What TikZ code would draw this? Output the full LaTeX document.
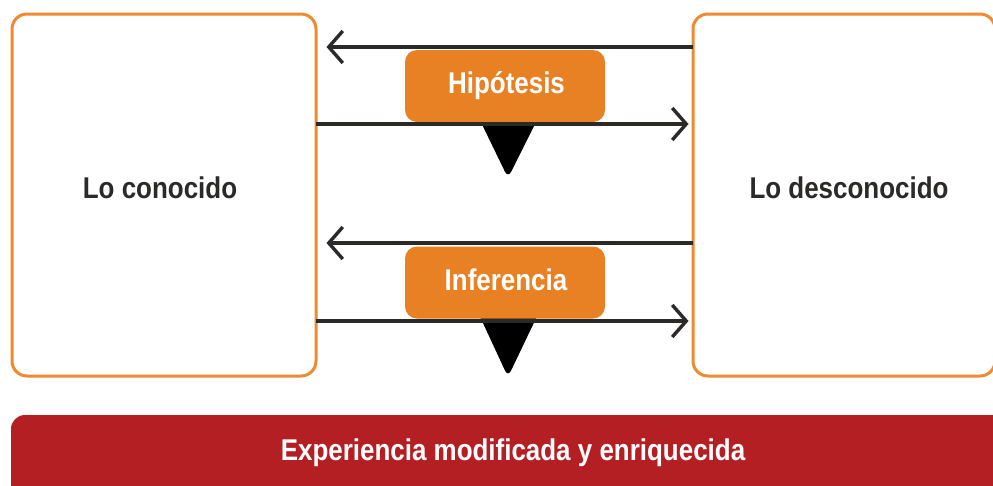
\documentclass[tikz,border=0pt]{standalone}
\usepackage{fontspec}
\newfontfamily\lblfont{Liberation Sans}[FakeStretch=0.865]
\usetikzlibrary{arrows.meta}
\definecolor{boxorange}{HTML}{EE8A2F}
\definecolor{tagorange}{HTML}{E88024}
\definecolor{barred}{HTML}{B41F24}
\definecolor{ink}{HTML}{2B2A29}
\begin{document}
\begin{tikzpicture}[x=1pt,y=-1pt,
  bigbox/.style={draw=boxorange, line width=3pt, rounded corners=15pt, fill=white, inner sep=0pt, minimum height=362pt},
  tag/.style={fill=tagorange, rounded corners=12pt, minimum width=200pt, minimum height=72pt, inner sep=0pt},
  pointer/.style={fill=black, rounded corners=7pt},
  lbl/.style={text=ink, inner sep=0pt, anchor=base, font=\lblfont\bfseries\fontsize{30}{34}\selectfont},
  wlbl/.style={lbl, text=white},
  conn/.style={draw=ink, line width=3.4pt, -{Straight Barb[length=14pt,width=32pt]}},
  bar/.style={fill=barred, rounded corners=14pt, minimum width=1004pt, minimum height=90pt, inner sep=0pt}
  ]
\useasboundingbox (0,0) rectangle (993,485);
\clip (0,0) rectangle (993,485);
\fill[white] (0,0) rectangle (993,485);
% main boxes
\node[bigbox, minimum width=304pt] (L) at (164,195) {};
\node[bigbox, minimum width=302pt] (R) at (844,195) {};
\node[lbl] (Lt) at (160,198) {Lo conocido};
\node[lbl] (Rt) at (849,198) {Lo desconocido};
% pointers
\fill[pointer] (476,112) -- (541,112) -- (508,178) -- cycle;
\fill[pointer] (476,308) -- (541,308) -- (508,377) -- cycle;
% tags
\node[tag] (H) at (505,86) {};
\node[tag] (I) at (505,282.5) {};
\node[wlbl] (Ht) at (506.5,93) {Hipótesis};
\node[wlbl] (It) at (506,290) {Inferencia};
% connectors
\coordinate (a1) at (693,47);
\coordinate (b1) at (316,124);
\coordinate (a2) at (693,243);
\coordinate (b2) at (316,321);
\draw[conn, shorten >=9pt] (a1) -- (L.east |- a1);
\draw[conn, shorten >=3pt] (b1) -- (R.west |- b1);
\draw[conn, shorten >=9pt] (a2) -- (L.east |- a2);
\draw[conn, shorten >=3pt] (b2) -- (R.west |- b2);
% bottom bar
\node[bar] (B) at (513,460) {};
\node[wlbl] (Bt) at (513,460) {Experiencia modificada y enriquecida};
\end{tikzpicture}
\end{document}
